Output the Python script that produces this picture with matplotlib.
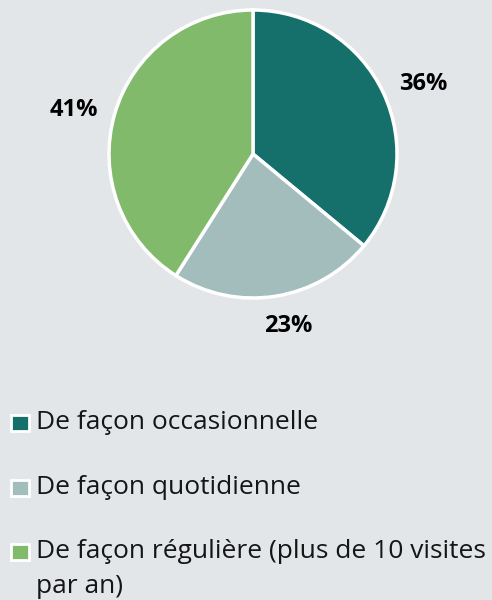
import matplotlib.pyplot as plt
import matplotlib.transforms as mtransforms
from matplotlib.patches import Rectangle

plt.rcParams['font.family'] = ['Open Sans', 'DejaVu Sans']

# data
categories = ["De façon occasionnelle", "De façon quotidienne",
              "De façon régulière (plus de 10 visites\npar an)"]
shares = [36, 23, 41]
colors = ["#156f6a", "#a3bdbc", "#80ba6a"]
bg = "#e3e6e9"

W, H = 492, 600
fig = plt.figure(figsize=(W / 100, H / 100), dpi=100, facecolor=bg)

# pie axes: centre (253, 154) px, radius 144 px
cx, cy, r = 253, 154, 144
ax = fig.add_axes([(cx - r) / W, (H - cy - r) / H, 2 * r / W, 2 * r / H])
ax.set_facecolor(bg)
wedges, texts, autotexts = ax.pie(
    shares, colors=colors, startangle=90, counterclock=False,
    autopct=lambda p: f"{p:.0f}%", pctdistance=1.27,
    wedgeprops=dict(edgecolor="white", linewidth=2.5),
    textprops=dict(fontsize=17, fontweight="bold", color="black"),
)
# nudge the labels (pixels) to sit where the original places them
nudges = [(5, -8), (7, 9), (-4, -7)]
for t, (dx, dy) in zip(autotexts, nudges):
    t.set_transform(mtransforms.offset_copy(ax.transData, fig=fig, x=dx, y=dy, units="dots"))
ax.set_xlim(-1.0, 1.0)
ax.set_ylim(-1.0, 1.0)
ax.set_aspect("equal")
ax.axis("off")

# legend drawn by hand so the marker sits on the first line
y0, step, line_h = 429, 64.5, 35
for i, (lab, col) in enumerate(zip(categories, colors)):
    y = y0 + i * step
    fig.patches.append(Rectangle((11 / W, 1 - (y + 2) / H), 18 / W, 16 / H,
                                 transform=fig.transFigure, facecolor=col,
                                 edgecolor="white", linewidth=2))
    # baseline alignment uses the last line, so push multi-line labels down
    yb = y + lab.count("\n") * line_h
    fig.text(36 / W, 1 - yb / H, lab, fontsize=19, color="#151515",
             va="baseline", linespacing=1.5)

fig.savefig("out.png", dpi=100, facecolor=bg)
